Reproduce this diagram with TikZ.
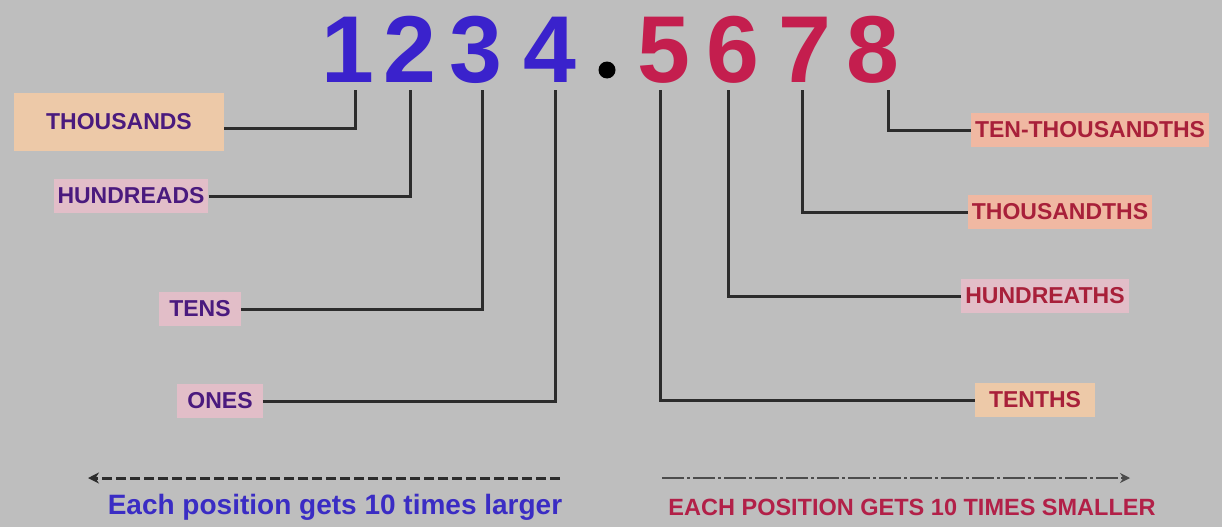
\documentclass[tikz,border=0pt]{standalone}
\usepackage{fontspec}
\setmainfont{Liberation Sans}
\usetikzlibrary{arrows.meta}
\definecolor{bg}{HTML}{BEBEBE}
\definecolor{blueDigit}{HTML}{3A22CC}
\definecolor{redDigit}{HTML}{C41E4E}
\definecolor{leftText}{HTML}{4A1A7E}
\definecolor{rightText}{HTML}{A8203A}
\definecolor{peach}{HTML}{EDC9A8}
\definecolor{pinkbox}{HTML}{E2BEC8}
\definecolor{salmon}{HTML}{F0B8A2}
\definecolor{wire}{HTML}{2C2C2C}
\definecolor{botBlue}{HTML}{3A2CC4}
\definecolor{botRed}{HTML}{B22048}
\tikzset{
  digitL/.style={font=\fontsize{95}{100}\selectfont\bfseries, text=blueDigit, anchor=base, inner sep=0pt},
  digitR/.style={font=\fontsize{95}{100}\selectfont\bfseries, text=redDigit, anchor=base, inner sep=0pt},
  lblL/.style={font=\fontsize{23}{25}\selectfont\bfseries, text=leftText, inner xsep=4pt, inner ysep=9pt},
  lblR/.style={font=\fontsize{23}{25}\selectfont\bfseries, text=rightText, inner xsep=4pt, inner ysep=9pt},
  wireline/.style={draw=wire, line width=3pt},
}
\begin{document}
\begin{tikzpicture}[x=1pt,y=-1pt]
\fill[bg] (0,0) rectangle (1222,527);
\useasboundingbox (0,0) rectangle (1222,527);

% digits
\node[digitL] (d1) at (348,82) {1};
\node[digitL] (d2) at (410,82) {2};
\node[digitL] (d3) at (476,82) {3};
\node[digitL] (d4) at (550,82) {4};
\node[circle, fill=black, inner sep=0pt, minimum size=17pt] (dot) at (607,70) {};
\node[digitR] (d5) at (664,82) {5};
\node[digitR] (d6) at (733,82) {6};
\node[digitR] (d7) at (805,82) {7};
\node[digitR] (d8) at (873,82) {8};

% feet of the connectors under the digits
\coordinate (f1) at (355,90);
\coordinate (f2) at (410,90);
\coordinate (f3) at (482,90);
\coordinate (f4) at (555,90);
\coordinate (f5) at (660,90);
\coordinate (f6) at (728,90);
\coordinate (f7) at (802,90);
\coordinate (f8) at (888,90);

% labels
\node[lblL, fill=peach, inner xsep=32pt, inner ysep=21pt] (thou) at (119,122) {THOUSANDS};
\node[lblL, fill=pinkbox] (hund) at (131,196) {HUNDREADS};
\node[lblL, fill=pinkbox, inner xsep=10pt] (tens) at (200,309) {TENS};
\node[lblL, fill=pinkbox, inner xsep=10pt] (ones) at (220,401) {ONES};

\node[lblR, fill=salmon] (tth) at (1090,130) {TEN-THOUSANDTHS};
\node[lblR, fill=salmon] (thth) at (1060,212) {THOUSANDTHS};
\node[lblR, fill=pinkbox] (hth) at (1045,296) {HUNDREATHS};
\node[lblR, fill=peach, inner xsep=14pt] (tnth) at (1035,400) {TENTHS};

% connectors
\draw[wireline] (thou.east |- 0,128) -| (f1);
\draw[wireline] (hund.east) -| (f2);
\draw[wireline] (tens.east) -| (f3);
\draw[wireline] (ones.east) -| (f4);
\draw[wireline] (tnth.west) -| (f5);
\draw[wireline] (hth.west) -| (f6);
\draw[wireline] (thth.west) -| (f7);
\draw[wireline] (tth.west) -| (f8);

% bottom arrows
\coordinate (la) at (560,478);
\coordinate (lb) at (88,478);
\draw[draw=wire, line width=3pt, dash pattern=on 10pt off 4pt, -{Stealth[length=11pt,width=11pt]}] (la) -- (lb);
\coordinate (ra) at (662,478);
\coordinate (rb) at (1130,478);
\draw[draw=wire!85, line width=1.8pt, dash pattern=on 22pt off 3pt on 3pt off 3pt, -{Stealth[length=10pt,width=10pt]}] (ra) -- (rb);

\node[font=\fontsize{28}{31}\selectfont\bfseries, text=botBlue, inner sep=0pt] (tl) at (335,507) {Each position gets 10 times larger};
\node[font=\fontsize{23.5}{27}\selectfont\bfseries, text=botRed, inner sep=0pt] (tr) at (912,507) {EACH POSITION GETS 10 TIMES SMALLER};
\end{tikzpicture}
\end{document}
